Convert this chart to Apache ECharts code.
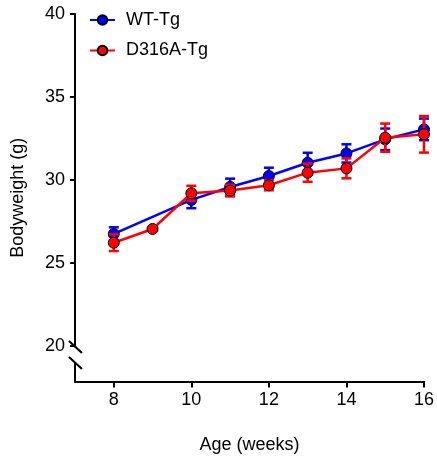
<!DOCTYPE html>
<html>
<head>
<meta charset="utf-8">
<script src="https://cdn.jsdelivr.net/npm/echarts@6/dist/echarts.min.js"></script>
<style>
  html, body { margin: 0; padding: 0; background: #fff; }
  #chart { width: 437px; height: 467px; }
</style>
</head>
<body>
<div id="chart"></div>
<script>
// data
var weeks = [8, 9, 10, 11, 12, 13, 14, 15, 16];
var wtMean = [26.75, null, 28.8, 29.58, 30.24, 31.04, 31.6, 32.45, 33.05];
var wtErr = [0.4, null, 0.5, 0.5, 0.5, 0.6, 0.55, 0.65, 0.65];
var mutMean = [26.22, 27.05, 29.2, 29.36, 29.68, 30.44, 30.7, 32.55, 32.75];
var mutErr = [0.5, 0.05, 0.45, 0.35, 0.3, 0.55, 0.6, 0.85, 1.1];
var xTicks = [8, 10, 12, 14, 16];
var yTicks = [20, 25, 30, 35, 40];

var font = 'Liberation Sans, Arial, sans-serif';
var chart = echarts.init(document.getElementById('chart'));

function pairs(mean) {
  var out = [];
  weeks.forEach(function (w, i) {
    if (mean[i] != null) out.push([w, mean[i]]);
  });
  return out;
}
function errRows(mean, err) {
  var out = [];
  weeks.forEach(function (w, i) {
    if (mean[i] != null) out.push([w, mean[i] - err[i], mean[i] + err[i]]);
  });
  return out;
}

// error bar: vertical line with caps, in series colour
function errorBar(color) {
  return function (params, api) {
    var lo = api.coord([api.value(0), api.value(1)]);
    var hi = api.coord([api.value(0), api.value(2)]);
    var half = 5;
    var style = { stroke: color, lineWidth: 2.5 };
    return {
      type: 'group',
      children: [
        { type: 'line', shape: { x1: lo[0], y1: lo[1], x2: hi[0], y2: hi[1] }, style: style },
        { type: 'line', shape: { x1: lo[0] - half, y1: lo[1], x2: lo[0] + half, y2: lo[1] }, style: style },
        { type: 'line', shape: { x1: hi[0] - half, y1: hi[1], x2: hi[0] + half, y2: hi[1] }, style: style }
      ]
    };
  };
}

chart.setOption({
  animation: false,
  textStyle: { fontFamily: font },
  grid: { left: 75, right: 13, top: 14, bottom: 85.5 },
  legend: {
    orient: 'vertical',
    left: 84,
    top: 6,
    itemWidth: 25,
    itemHeight: 12,
    itemGap: 12.5,
    data: ['WT-Tg', 'D316A-Tg'],
    textStyle: { fontSize: 18, color: '#000', fontFamily: font, padding: [0, 0, 0, 6] }
  },
  xAxis: {
    type: 'value',
    min: 7,
    max: 16,
    name: 'Age (weeks)',
    nameLocation: 'middle',
    nameGap: 55,
    nameTextStyle: { fontSize: 18, color: '#000', fontFamily: font },
    splitLine: { show: false },
    axisLine: { lineStyle: { color: '#000', width: 2 } },
    axisTick: { customValues: xTicks, length: 6, lineStyle: { color: '#000', width: 2 } },
    axisLabel: { customValues: xTicks, fontSize: 18, color: '#000', margin: 10 }
  },
  yAxis: {
    type: 'value',
    min: 17.86,
    max: 40,
    name: 'Bodyweight (g)',
    nameLocation: 'middle',
    nameGap: 48,
    nameTextStyle: { fontSize: 18, color: '#000', fontFamily: font },
    splitLine: { show: false },
    axisLine: { show: true, lineStyle: { color: '#000', width: 2 } },
    axisTick: { customValues: yTicks, length: 5, lineStyle: { color: '#000', width: 2 } },
    axisLabel: { customValues: yTicks, fontSize: 18, color: '#000', margin: 10 }
  },
  series: [
    {
      name: 'WT-Tg err',
      type: 'custom',
      z: 1,
      renderItem: errorBar('#0000ff'),
      encode: { x: 0, y: [1, 2] },
      data: errRows(wtMean, wtErr)
    },
    {
      name: 'WT-Tg',
      type: 'line',
      z: 2,
      data: pairs(wtMean),
      symbol: 'circle',
      symbolSize: 11,
      lineStyle: { color: '#0000ff', width: 2.5 },
      itemStyle: { color: '#0000ff', borderColor: '#000', borderWidth: 1 }
    },
    {
      name: 'D316A-Tg err',
      type: 'custom',
      z: 3,
      renderItem: errorBar('#ff0000'),
      encode: { x: 0, y: [1, 2] },
      data: errRows(mutMean, mutErr)
    },
    {
      name: 'D316A-Tg',
      type: 'line',
      z: 4,
      data: pairs(mutMean),
      symbol: 'circle',
      symbolSize: 11,
      lineStyle: { color: '#ff0000', width: 2.5 },
      itemStyle: { color: '#ff0000', borderColor: '#000', borderWidth: 1 }
    }
  ]
});

// broken y axis marks between 20 and the x axis
var breakHi = chart.convertToPixel({ gridIndex: 0 }, [7, 19.94]);
var breakLo = chart.convertToPixel({ gridIndex: 0 }, [7, 18.98]);
var ax = breakHi[0];
chart.setOption({
  graphic: [
    { type: 'rect', z: 100, shape: { x: ax - 3, y: breakHi[1], width: 6, height: breakLo[1] - breakHi[1] }, style: { fill: '#fff' } },
    { type: 'line', z: 101, shape: { x1: ax - 6, y1: breakHi[1] - 6, x2: ax + 7, y2: breakHi[1] + 6 }, style: { stroke: '#000', lineWidth: 2 } },
    { type: 'line', z: 101, shape: { x1: ax - 6, y1: breakLo[1] - 6, x2: ax + 7, y2: breakLo[1] + 6 }, style: { stroke: '#000', lineWidth: 2 } }
  ]
});
</script>
</body>
</html>
